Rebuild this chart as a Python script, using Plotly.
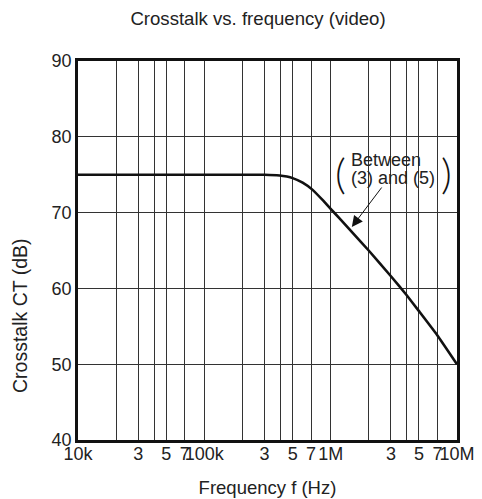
import plotly.graph_objects as go
import math

# Data
freq_hz = [1e4, 1e5, 2e5, 3e5, 3.94e5, 4.5e5, 5e5, 6e5, 7.2e5, 8.7e5, 1e6, 1.18e6, 1.5e6,
           2e6, 3e6, 4e6, 5e6, 7e6, 1e7]
crosstalk_db = [75, 75, 75, 75.0, 74.9, 74.75, 74.55, 73.95, 73.0, 71.6, 70.5, 69.2, 67.3,
                65.0, 61.6, 59.1, 57.0, 53.8, 50.0]

x_tickvals = [1e4, 2e4, 3e4, 4e4, 5e4, 7e4, 1e5, 2e5, 3e5, 4e5, 5e5, 7e5,
              1e6, 2e6, 3e6, 4e6, 5e6, 7e6, 1e7]
x_ticktext = ["10k", "", "3", "", "5", "7", "100k", "", "3", "", "5", "7",
              "1M", "", "3", "", "5", "7", "10M"]
y_tickvals = [40, 50, 60, 70, 80, 90]

FONT = "Liberation Sans, Arial, sans-serif"
FS = 18
W, H = 474, 491  # page body has an 8px margin in the 482x499 window

fig = go.Figure()
fig.add_trace(go.Scatter(x=freq_hz, y=crosstalk_db, mode="lines",
                         line=dict(color="#111", width=2.6, shape="spline", smoothing=0.3),
                         showlegend=False, hoverinfo="skip"))

paren_font = dict(size=42, color="#111", family="Lato", weight=300)

fig.update_layout(
    width=W, height=H,
    margin=dict(l=70, r=25, t=53, b=59, autoexpand=False),
    paper_bgcolor="white", plot_bgcolor="white",
    font=dict(family=FONT, size=FS, color="#222"),
    title=dict(text="Crosstalk vs. frequency (video)", x=250 / W, xanchor="center",
               y=1 - 10 / H, yanchor="middle", font=dict(size=18.6, color="#222")),
    xaxis=dict(type="log", range=[4, 7], tickvals=x_tickvals, ticktext=x_ticktext,
               tickangle=0, showgrid=True, gridcolor="#333", gridwidth=1,
               showline=True, linecolor="#111", linewidth=2.5, mirror=True,
               ticks="", ticklen=0, zeroline=False, automargin=False,
               ticklabelstandoff=-4,
               title=dict(text="Frequency f (Hz)", standoff=18, font=dict(size=18.5))),
    yaxis=dict(range=[40, 90], tickvals=y_tickvals, showgrid=True, gridcolor="#333",
               gridwidth=1, showline=True, linecolor="#111", linewidth=2.5, mirror=True,
               ticks="", zeroline=False, automargin=False),
    annotations=[
        dict(text="Crosstalk CT (dB)", textangle=-90, xref="paper", yref="paper",
             x=-58 / 379, y=(440 - 316) / 379, xanchor="center", yanchor="middle",
             showarrow=False, font=dict(size=19.5)),
        dict(text="Between", xref="x", yref="y",
             x=math.log10(2.74e6), y=77.0, showarrow=False, font=dict(size=FS)),
        dict(text="(3) and (5)", xref="x", yref="y",
             x=math.log10(3.1e6), y=74.6, showarrow=False, font=dict(size=FS)),
        dict(text="(", xref="x", yref="y", x=math.log10(1.2e6), y=75.2,
             showarrow=False, font=paren_font),
        dict(text=")", xref="x", yref="y", x=math.log10(8.2e6), y=75.2,
             showarrow=False, font=paren_font),
        dict(text="", xref="x", yref="y", x=math.log10(1.47e6), y=68.1,
             ax=31, ay=-41, axref="pixel", ayref="pixel", showarrow=True,
             arrowhead=2, arrowsize=2.2, arrowwidth=1, arrowcolor="#111"),
    ],
)

fig.write_html("out.html")
